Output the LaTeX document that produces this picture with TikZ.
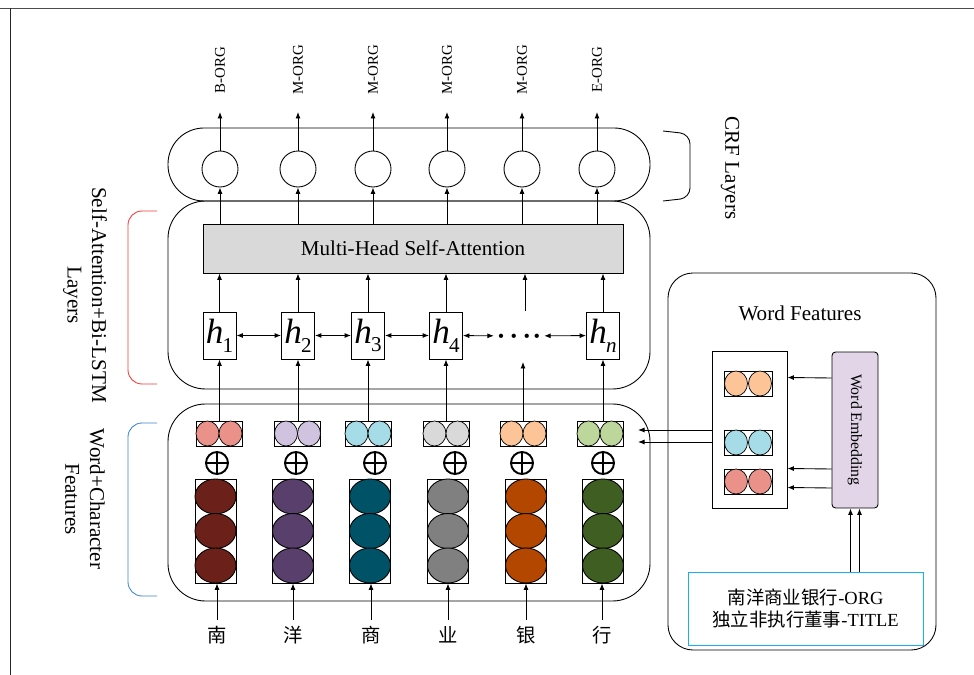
\documentclass[tikz,border=0pt]{standalone}
\usepackage{fontspec}
\setmainfont{Liberation Serif}
\newfontfamily\cjk{Noto Sans CJK SC}
\usepackage{tikz}
\usetikzlibrary{
  arrows.meta,
  positioning,
  shapes.geometric,
  calc
}

\definecolor{deep1}{HTML}{6B2119}
\definecolor{deep2}{HTML}{583F6C}
\definecolor{deep3}{HTML}{005366}
\definecolor{deep4}{HTML}{808080}
\definecolor{deep5}{HTML}{B34700}
\definecolor{deep6}{HTML}{3F5E21}
\definecolor{lite1}{HTML}{EA928A}
\definecolor{lite2}{HTML}{D0C3DF}
\definecolor{lite3}{HTML}{A5DCE7}
\definecolor{lite4}{HTML}{D9D9D9}
\definecolor{lite5}{HTML}{FDC497}
\definecolor{lite6}{HTML}{BCD69C}
\definecolor{embedfill}{HTML}{E1D5E7}
\definecolor{samplecyan}{HTML}{1AAFEF}
\definecolor{bracketred}{HTML}{F23B3B}
\definecolor{bracketblue}{HTML}{3D85D0}

\newcommand{\hsym}[1]{\fontsize{20}{20}\selectfont\textit{h}\kern-0.5pt\raisebox{-0.25em}{\fontsize{12}{12}\selectfont #1}}

\begin{document}
\begin{tikzpicture}[
  x=0.02cm, y=-0.02cm,
  line width=0.5pt,
  >={Latex[length=1.3mm, width=1mm]},
  crf/.style={circle, draw, minimum size=0.72cm, inner sep=0pt},
  tag/.style={rotate=90, font=\fontsize{8.5}{8.5}\selectfont, inner sep=1pt},
  attn/.style={draw, fill=lite4, minimum width=8.4cm, minimum height=0.98cm,
               font=\fontsize{12}{14}\selectfont},
  hbox/.style={draw, fill=white, minimum width=0.66cm, minimum height=0.94cm, inner sep=0pt},
  pairbox/.style={draw, fill=white, minimum width=0.92cm, minimum height=0.5cm, inner sep=0pt},
  ball/.style={ellipse, draw, line width=0.4pt, minimum width=0.46cm, minimum height=0.5cm, inner sep=0pt},
  stack/.style={draw, minimum width=0.82cm, minimum height=2.08cm, inner sep=0pt},
  bigball/.style={ellipse, draw, minimum width=0.82cm, minimum height=0.7cm, inner sep=0pt},
  oplus/.style={circle, draw, line width=1.1pt, minimum size=0.44cm, inner sep=0pt,
    path picture={\draw[line width=1.1pt]
      (path picture bounding box.north) -- (path picture bounding box.south)
      (path picture bounding box.west) -- (path picture bounding box.east);}},
  word/.style={font=\cjk\fontsize{11}{11}\selectfont},
  side/.style={rotate=-90, align=center, font=\fontsize{12}{14}\selectfont}
]
\useasboundingbox (0,0) rectangle (974,675);
\draw[black!70] (0,8) -- (974,8);
\draw[black!85] (10,8) -- (10,675);

% layer outlines
\draw[rounded corners=0.72cm] (168,128) rectangle (650,201);
\draw[rounded corners=0.75cm] (168,201) rectangle (650,389);
\draw[rounded corners=0.75cm] (168,404) rectangle (650,601);

% crf layer
\foreach \i/\x/\t in {1/220/B-ORG, 2/298/M-ORG, 3/373/M-ORG, 4/447/M-ORG, 5/522/M-ORG, 6/597/E-ORG}{
  \node[crf] (crf\i) at (\x,169) {};
  \coordinate (out\i) at (\x,112);
  \node[tag] (tag\i) at (\x,70) {\t};
  \draw[->] (crf\i) -- (out\i);
}

% attention
\node[attn] (mhsa) at (413,248.5) {Multi-Head Self-Attention};
\foreach \i in {1,...,6}
  \draw[->] (mhsa.north -| crf\i) -- (crf\i);

% bi-lstm
\foreach \i/\x/\s in {1/219.5/1, 2/298/2, 3/368/3, 4/446/4, 6/603/\textit{n}}{
  \node[hbox] (h\i) at (\x,335.5) {\hsym{\s}};
  \draw[->] (h\i) -- (h\i |- mhsa.south);
}
\node[font=\fontsize{5}{5}\selectfont, inner sep=2pt] (hdots) at (519,336)
  {$\bullet\;\bullet\;\bullet\;\bullet$};
\coordinate (up5) at (525,311);
\coordinate (in5) at (523,362);
\draw[->] (up5) -- (up5 |- mhsa.south);
\draw[<->] (h1) -- (h2);
\draw[<->] (h2) -- (h3);
\draw[<->] (h3) -- (h4);
\draw[<->] (h4) -- (hdots);
\draw[<->] (hdots) -- (h6);

% word + character features
\foreach \i/\xp/\xs/\xe/\xc/\ch in {1/219/217/215.5/217/南, 2/297.5/296/293/293/洋,
    3/368/375/370/371/商, 4/446/455/448/448/业, 5/523/522/526/526/银, 6/600/603/603/602/行}{
  \node[pairbox] (pair\i) at (\xp,433.5) {};
  \node[ball, fill=lite\i] (pair\i-l) at ([xshift=-0.23cm]pair\i.center) {};
  \node[ball, fill=lite\i] (pair\i-r) at ([xshift=0.23cm]pair\i.center) {};
  \node[oplus] (sum\i) at (\xs,463) {};
  \node[stack] (emb\i) at (\xe,531) {};
  \foreach \k/\dy in {a/-34.5, b/0, c/34.5}
    \node[bigball, fill=deep\i] (emb\i-\k) at ($(emb\i)+(0,\dy)$) {};
  \node[word] (ch\i) at (\xc,635) {\ch};
  \draw[->] (ch\i) -- (ch\i |- emb\i.south);
}
\foreach \i in {1,2,3,4,6}
  \draw[->] (pair\i.north -| h\i) -- (h\i);
\draw[->] (pair5) -- (in5);

% brackets and layer names
\draw[bracketred, rounded corners=0.28cm] (157,211) -- (128,211) -- (128,384) -- (157,384);
\draw[bracketblue, rounded corners=0.28cm] (157,423) -- (128,423) -- (128,596) -- (157,596);
\draw[rounded corners=0.2cm] (663,131) -- (690,134) -- (690,198) -- (663,201);
\node[side] (lstmname) at (85,295) {Self-Attention+Bi-LSTM\\Layers};
\node[side] (charname) at (85,499) {Word+Character\\Features};
\node[side] (crfname) at (730,168) {CRF Layers};

% word features
\draw[rounded corners=0.5cm] (668,273) rectangle (936,650);
\node[font=\fontsize{12}{14}\selectfont] (wftitle) at (800,313) {Word Features};
\node[draw, minimum width=1.5cm, minimum height=3.14cm] (wordvec) at (749.5,429.5) {};
\foreach \j/\y/\c in {1/383.5/5, 2/442.5/3, 3/481.5/1}{
  \node[pairbox, minimum width=0.96cm] (wv\j) at (748,\y) {};
  \node[ball, fill=lite\c] (wv\j-l) at ([xshift=-0.24cm]wv\j.center) {};
  \node[ball, fill=lite\c] (wv\j-r) at ([xshift=0.24cm]wv\j.center) {};
}
\node[draw, fill=embedfill, rounded corners=2pt, minimum width=0.92cm, minimum height=3.12cm,
      inner sep=0pt] (embed) at (855,430) {};
\node[rotate=-90, font=\fontsize{9}{9}\selectfont] (embedlbl) at (embed) {Word Embedding};
\foreach \dy in {-52,39,58}
  \draw[->] ($(embed.west)+(0,\dy)$) -- ($(wordvec.east)+(0,\dy)$);
\coordinate (feed1) at (638,430);
\coordinate (feed2) at (638,442);
\draw[->] (wordvec.west |- feed1) -- (feed1);
\draw[->] (wordvec.west |- feed2) -- (feed2);

\node[draw=samplecyan, minimum width=4.7cm, minimum height=1.46cm, align=center,
      font=\fontsize{10.5}{13}\selectfont] (sample) at (805.5,608.5)
  {{\cjk 南洋商业银行}-ORG\\{\cjk 独立非执行董事}-TITLE};
\foreach \dx in {-0.09cm,0.09cm}
  \draw[->] ([xshift=\dx]embed.south |- sample.north) -- ([xshift=\dx]embed.south);
\end{tikzpicture}
\end{document}
